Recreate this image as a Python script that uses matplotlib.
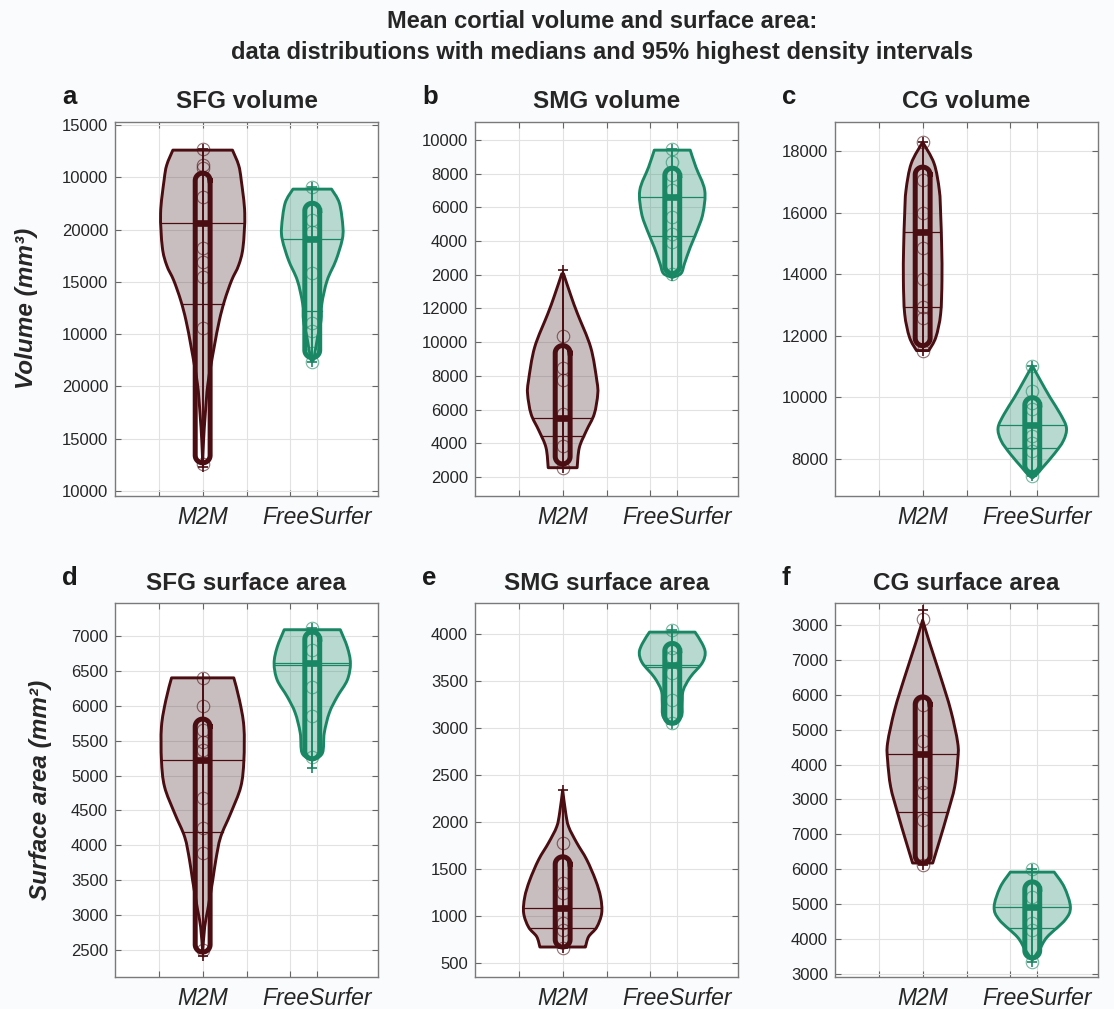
import numpy as np
import matplotlib.pyplot as plt
import matplotlib.transforms as mtransforms
from matplotlib.path import Path
from matplotlib.patches import PathPatch
from matplotlib.colors import to_rgba

plt.rcParams['font.family'] = ['Liberation Sans', 'DejaVu Sans']

M2M_COL = '#4a0d12'
M2M_FILL = to_rgba('#4f2a2e', 0.30)
FS_COL = '#1a8764'
FS_FILL = to_rgba('#1a8764', 0.31)
X_M2M = 1.0
X_FS = 2.25

# ---- panel a: SFG volume (axis labels repeat as in the original figure)
a_ticks = [10000, 15000, 20000, 25000, 30000, 35000, 40000, 45000]
a_labels = ['10000', '15000', '20000', '10000', '15000', '20000', '10000', '15000']
a_m2m_y = [42600, 41170, 39730, 36560, 33300, 31580, 30140, 28220, 26300, 23710, 20260, 17380, 14800, 12690]
a_m2m_w = [0.34, 0.41, 0.44, 0.48, 0.46, 0.41, 0.33, 0.25, 0.19, 0.13, 0.06, 0.03, 0.01, 0.0]
a_m2m_pts = [42700, 41170, 40900, 38100, 33210, 31870, 30430, 25540, 12590]
a_m2m_stats = [35600, 27930, 12690, 40400, 12300, 42700]  # median, mean, hdi lo, hdi hi, min, max
a_fs_y = [38870, 37520, 35220, 33980, 32060, 30140, 27930, 26300, 24670, 22750, 22370]
a_fs_w = [0.22, 0.31, 0.35, 0.34, 0.27, 0.17, 0.11, 0.10, 0.06, 0.02, 0.0]
a_fs_pts = [39060, 35890, 34740, 30810, 26020, 25340, 23230, 22370]
a_fs_stats = [34070, 27260, 22750, 37520, 22370, 39060]

# ---- panel b: SMG volume
b_ticks = list(range(2000, 22001, 2000))
b_labels = ['2000', '4000', '6000', '8000', '10000', '12000', '2000', '4000', '6000', '8000', '10000']
b_m2m_y = [14060, 12670, 11680, 9690, 7710, 6920, 5730, 4740, 3740, 2550]
b_m2m_w = [0.01, 0.10, 0.17, 0.32, 0.39, 0.40, 0.36, 0.27, 0.19, 0.165]
b_m2m_pts = [10390, 8490, 7770, 5750, 3840, 2540]
b_m2m_stats = [5500, 4440, 2770, 9800, 2540, 14260]
b_fs_y = [21400, 20390, 19020, 17650, 16640, 15630, 14670, 14080, 13840]
b_fs_w = [0.205, 0.27, 0.37, 0.35, 0.285, 0.205, 0.14, 0.10, 0.0]
b_fs_pts = [21460, 20680, 19900, 19020, 17410, 16400, 15920, 14020]
b_fs_stats = [18600, 16280, 14080, 20330, 13900, 21460]

# ---- panel c: CG volume
c_ticks = [8000, 10000, 12000, 14000, 16000, 18000]
c_labels = [str(t) for t in c_ticks]
c_m2m_y = [18290, 17600, 16730, 15970, 14880, 13800, 12710, 11950, 11520]
c_m2m_w = [0.0, 0.13, 0.19, 0.205, 0.217, 0.22, 0.205, 0.15, 0.07]
c_m2m_pts = [18290, 17050, 15980, 14840, 13860, 12920, 12590, 11520]
c_m2m_stats = [15360, 12920, 11680, 17480, 11520, 18290]
c_fs_y = [11030, 10540, 9990, 9460, 9010, 8590, 8160, 7710, 7510, 7380]
c_fs_w = [0.0, 0.095, 0.205, 0.32, 0.39, 0.355, 0.25, 0.115, 0.055, 0.0]
c_fs_pts = [11030, 10210, 9820, 9630, 8750, 8520, 8260, 7440]
c_fs_stats = [9100, 8360, 7550, 9990, 7440, 11030]

# ---- panel d: SFG surface area
d_ticks = list(range(2500, 7001, 500))
d_labels = [str(t) for t in d_ticks]
d_m2m_y = [6400, 6080, 5700, 5220, 4840, 4460, 4120, 3790, 3500, 3070, 2830, 2470]
d_m2m_w = [0.355, 0.42, 0.47, 0.47, 0.435, 0.32, 0.205, 0.15, 0.115, 0.057, 0.023, 0.0]
d_m2m_pts = [6400, 6000, 5650, 5480, 5370, 4680, 4250, 3890, 2500]
d_m2m_stats = [5220, 4190, 2470, 5810, 2420, 6400]
d_fs_y = [7090, 6840, 6610, 6370, 6130, 5900, 5610, 5320, 5220]
d_fs_w = [0.32, 0.40, 0.435, 0.40, 0.285, 0.195, 0.137, 0.115, 0.0]
d_fs_pts = [7110, 6800, 6270, 5850, 5270]
d_fs_stats = [6610, 6590, 5240, 7060, 5110, 7110]

# ---- panel e: SMG surface area
e_ticks = list(range(500, 4001, 500))
e_labels = [str(t) for t in e_ticks]
e_m2m_y = [2340, 2100, 1950, 1780, 1600, 1380, 1200, 1030, 880, 780, 670]
e_m2m_w = [0.0, 0.034, 0.068, 0.16, 0.274, 0.376, 0.433, 0.445, 0.388, 0.296, 0.26]
e_m2m_pts = [1780, 1350, 1240, 930, 850, 660]
e_m2m_stats = [1090, 870, 670, 1630, 660, 2340]
e_fs_y = [4020, 3900, 3800, 3690, 3540, 3400, 3270, 3120, 3050]
e_fs_w = [0.26, 0.34, 0.376, 0.34, 0.205, 0.125, 0.114, 0.103, 0.0]
e_fs_pts = [4040, 3850, 3760, 3590, 3300, 3050]
e_fs_stats = [3670, 3650, 3050, 3900, 3040, 4040]

# ---- panel f: CG surface area
f_ticks = list(range(3000, 13001, 1000))
f_labels = ['3000', '4000', '5000', '6000', '7000', '3000', '4000', '5000', '6000', '7000', '3000']
f_m2m_y = [13140, 12480, 11510, 10560, 9620, 9130, 8360, 7610, 6840, 6180]
f_m2m_w = [0.0, 0.08, 0.205, 0.32, 0.40, 0.40, 0.365, 0.285, 0.195, 0.115]
f_m2m_pts = [13170, 10710, 9680, 8470, 8210, 7410, 6120]
f_m2m_stats = [9300, 7640, 6180, 10940, 6120, 13430]
f_fs_y = [5920, 5490, 4920, 4550, 4060, 3690, 3400]
f_fs_w = [0.25, 0.365, 0.435, 0.375, 0.17, 0.08, 0.0]
f_fs_pts = [6010, 5210, 4460, 4260, 3340]
f_fs_stats = [4920, 4320, 3460, 5640, 3340, 6010]

panels = [
    ('a', 'SFG volume', a_ticks, a_labels, (9520, 45290),
     (a_m2m_y, a_m2m_w, a_m2m_pts, a_m2m_stats), (a_fs_y, a_fs_w, a_fs_pts, a_fs_stats)),
    ('b', 'SMG volume', b_ticks, b_labels, (870, 23070),
     (b_m2m_y, b_m2m_w, b_m2m_pts, b_m2m_stats), (b_fs_y, b_fs_w, b_fs_pts, b_fs_stats)),
    ('c', 'CG volume', c_ticks, c_labels, (6795, 18945),
     (c_m2m_y, c_m2m_w, c_m2m_pts, c_m2m_stats), (c_fs_y, c_fs_w, c_fs_pts, c_fs_stats)),
    ('d', 'SFG surface area', d_ticks, d_labels, (2113, 7473),
     (d_m2m_y, d_m2m_w, d_m2m_pts, d_m2m_stats), (d_fs_y, d_fs_w, d_fs_pts, d_fs_stats)),
    ('e', 'SMG surface area', e_ticks, e_labels, (351, 4330),
     (e_m2m_y, e_m2m_w, e_m2m_pts, e_m2m_stats), (e_fs_y, e_fs_w, e_fs_pts, e_fs_stats)),
    ('f', 'CG surface area', f_ticks, f_labels, (2914, 13630),
     (f_m2m_y, f_m2m_w, f_m2m_pts, f_m2m_stats), (f_fs_y, f_fs_w, f_fs_pts, f_fs_stats)),
]

W, H = 1114, 1009
fig = plt.figure(figsize=(W / 100, H / 100), dpi=100, facecolor='#fafbfd')

# axes boxes in pixels
col_left = [115, 475, 835]
row_top = [122, 603]
AX_W, AX_H = 263, 374


def smooth_side(xs, ys):
    # bezier control points (catmull-rom style) through the outline knots
    p = np.column_stack([xs, ys])
    ext = np.vstack([p[0], p, p[-1]])
    verts, codes = [], []
    for i in range(len(p) - 1):
        p0, p1, p2, p3 = ext[i], ext[i + 1], ext[i + 2], ext[i + 3]
        verts += [p1 + (p2 - p0) / 6, p2 - (p3 - p1) / 6, p2]
        codes += [Path.CURVE4] * 3
    return verts, codes


def draw_violin(ax, cx, prof_y, prof_w, pts, stats, color, fill, ry):
    prof_y = np.array(prof_y, dtype=float)
    prof_w = np.array(prof_w, dtype=float)
    lv, lc = smooth_side(cx - prof_w, prof_y)
    rv, rc = smooth_side((cx + prof_w)[::-1], prof_y[::-1])
    verts = [(cx - prof_w[0], prof_y[0])] + lv + [(cx + prof_w[-1], prof_y[-1])] + rv + [(0, 0)]
    codes = [Path.MOVETO] + lc + [Path.LINETO] + rc + [Path.CLOSEPOLY]
    patch = PathPatch(Path(verts, codes), facecolor=fill, edgecolor=color,
                      lw=2.1, joinstyle='round', zorder=2)
    ax.add_patch(patch)
    med, mean, lo, hi, wlo, whi = stats
    order = np.argsort(prof_y)
    for v in (med, mean):
        w = np.interp(v, prof_y[order], prof_w[order])
        ax.plot([cx - w, cx + w], [v, v], color=color, lw=0.9, zorder=3)
    # whisker
    ax.plot([cx, cx], [wlo, whi], color=color, lw=1.4, zorder=4)
    ax.plot([cx, cx], [wlo, whi], ls='none', marker='+', ms=7, mew=1.2, color=color, zorder=4)
    # rounded HDI box
    bw = 0.085
    r = min(ry, (hi - lo) / 2)
    t = np.linspace(0, np.pi, 20)
    top_x = cx + bw * np.cos(t)
    top_y = hi - r + r * np.sin(t)
    bot_x = cx - bw * np.cos(t)
    bot_y = lo + r - r * np.sin(t)
    bx = np.concatenate([top_x, bot_x, top_x[:1]])
    by = np.concatenate([top_y, bot_y, top_y[:1]])
    ax.plot(bx, by, color=color, lw=3.6, zorder=5)
    ax.plot([cx - bw, cx + bw], [med, med], color=color, lw=4.8, solid_capstyle='butt', zorder=5)
    ax.plot(np.full(len(pts), cx), pts, ls='none', marker='o', ms=9, mfc='none',
            mec=color, mew=0.8, alpha=0.6, zorder=6)


for i, (letter, title, ticks, labels, ylim, m2m, fs) in enumerate(panels):
    r, c = divmod(i, 3)
    left = col_left[c] / W
    bottom = 1 - (row_top[r] + AX_H) / H
    ax = fig.add_axes([left, bottom, AX_W / W, AX_H / H])
    ax.set_facecolor('white')
    ax.set_xlim(0, 3)
    ax.set_ylim(*ylim)
    ax.set_yticks(ticks)
    ax.set_yticklabels(labels)
    ax.set_xticks([0.5, 1.0, 1.5, 2.0, 2.3])
    ax.set_xticklabels(['', 'M2M', '', '', 'FreeSurfer'], fontstyle='italic', fontsize=16.5,
                       color='#262626')
    shift = mtransforms.ScaledTranslation(4 / 100, 0, fig.dpi_scale_trans)
    for lab in ax.get_xticklabels():
        lab.set_transform(lab.get_transform() + shift)
    ax.tick_params(axis='y', labelsize=12, labelcolor='#262626', pad=5)
    ax.tick_params(axis='x', pad=7)
    ax.tick_params(direction='in', length=4, width=0.8, color='#666666', top=True, right=True)
    ax.grid(True, color='#e2e2e2', lw=0.8)
    ax.set_axisbelow(True)
    for s in ax.spines.values():
        s.set_color('#7a7a7a')
        s.set_linewidth(1.0)
    px_per_x = AX_W / 3.0
    px_per_y = AX_H / (ylim[1] - ylim[0])
    ry = 0.085 * px_per_x / px_per_y
    draw_violin(ax, X_M2M, *m2m, M2M_COL, M2M_FILL, ry)
    draw_violin(ax, X_FS, *fs, FS_COL, FS_FILL, ry)

    cx_px = col_left[c] + AX_W / 2
    ty = row_top[r] - 20
    fig.text(cx_px / W, 1 - ty / H, title, ha='center', va='center', fontsize=17.5,
             fontweight='bold', color='#262626')
    fig.text((col_left[c] - 53) / W, 1 - (row_top[r] - 25) / H, letter, ha='left', va='center',
             fontsize=18.5, fontweight='bold', color='#1a1a1a')

fig.text(27 / W, 1 - 308 / H, 'Volume (mm³)', rotation=90, ha='center', va='center',
         fontsize=17.5, fontweight='bold', fontstyle='italic', color='#262626')
fig.text(41 / W, 1 - 790 / H, 'Surface area (mm²)', rotation=90, ha='center', va='center',
         fontsize=17.5, fontweight='bold', fontstyle='italic', color='#262626')

fig.text(602 / W, 1 - 21 / H, 'Mean cortial volume and surface area:', ha='center', va='center',
         fontsize=17, fontweight='bold', color='#262626')
fig.text(602 / W, 1 - 53 / H, 'data distributions with medians and 95% highest density intervals',
         ha='center', va='center', fontsize=17, fontweight='bold', color='#262626')

fig.savefig('out.png', dpi=100, facecolor=fig.get_facecolor())
